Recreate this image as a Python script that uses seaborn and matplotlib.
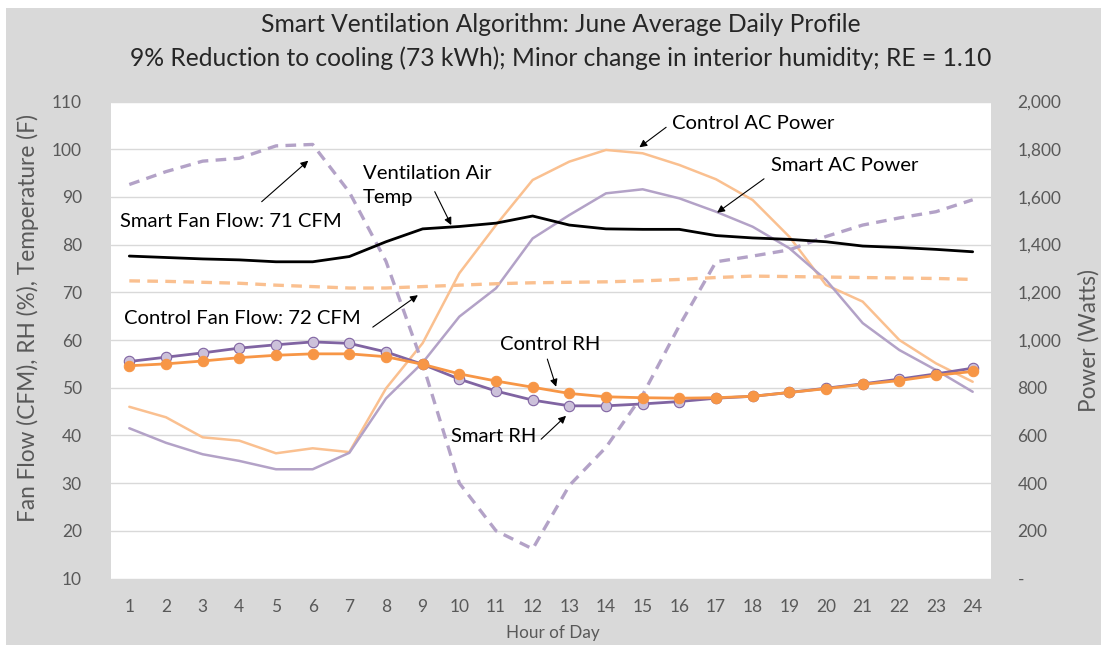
import pandas as pd
import matplotlib
matplotlib.use('Agg')
import matplotlib.pyplot as plt
import seaborn as sns
from matplotlib.patches import Rectangle
from matplotlib.ticker import FuncFormatter


hours = list(range(1, 25))

# left axis series (CFM, %, F)
smart_fan = [92.6, 95.3, 97.5, 98.1, 100.7, 101.0, 91.0, 76.5, 55.0, 30.0, 20.0, 16.2,
             29.5, 37.5, 48.5, 63.0, 76.4, 77.6, 78.9, 81.7, 84.1, 85.6, 86.9, 89.4]
control_fan = [72.4, 72.3, 72.1, 71.9, 71.5, 71.2, 70.9, 70.9, 71.2, 71.5, 71.8, 72.0,
               72.1, 72.2, 72.4, 72.7, 73.1, 73.4, 73.3, 73.2, 73.1, 73.0, 72.9, 72.7]
vent_temp = [77.6, 77.3, 77.0, 76.8, 76.4, 76.4, 77.5, 80.6, 83.3, 83.8, 84.5, 86.0,
             84.1, 83.3, 83.2, 83.2, 81.9, 81.4, 81.1, 80.6, 79.7, 79.4, 79.0, 78.5]
control_rh = [54.6, 55.0, 55.6, 56.3, 56.8, 57.1, 57.1, 56.5, 54.9, 52.9, 51.4, 50.1,
              48.8, 48.1, 47.9, 47.8, 47.9, 48.2, 49.0, 49.8, 50.7, 51.5, 52.6, 53.4]
smart_rh = [55.5, 56.4, 57.3, 58.3, 59.0, 59.6, 59.3, 57.5, 54.9, 51.8, 49.3, 47.4,
            46.2, 46.2, 46.6, 47.1, 47.8, 48.2, 49.0, 49.9, 50.8, 51.8, 52.9, 54.1]

# right axis series (Watts)
control_ac = [720, 676, 592, 578, 525, 546, 530, 797, 987, 1280, 1482, 1671,
              1748, 1797, 1783, 1734, 1674, 1587, 1433, 1231, 1161, 1000, 902, 825]
smart_ac = [630, 569, 521, 493, 458, 458, 527, 755, 905, 1098, 1217, 1426,
            1524, 1615, 1632, 1594, 1538, 1475, 1385, 1252, 1071, 958, 874, 783]

df = pd.DataFrame({'hour': hours, 'smart_fan': smart_fan, 'control_fan': control_fan,
                   'vent_temp': vent_temp, 'control_rh': control_rh, 'smart_rh': smart_rh,
                   'control_ac': control_ac, 'smart_ac': smart_ac})

sns.set_style('white')
plt.rcParams['font.family'] = ['Lato', 'DejaVu Sans']

grey_txt = '#595959'
orange = '#F79646'
purple = '#8064A2'
lt_orange = '#FAC090'
lt_purple = '#B3A2C7'

fig = plt.figure(figsize=(11.01, 6.45), dpi=100, facecolor='white')
fig.patches.append(Rectangle((6 / 1101, 0), 1, 1 - 8 / 645, transform=fig.transFigure,
                             facecolor='#D9D9D9', edgecolor='none', zorder=-10))

ax2 = fig.add_axes([0.1008, 0.1031, 0.7993, 0.7395])
ax = ax2.twinx()
ax.set_zorder(ax2.get_zorder() + 1)
ax.patch.set_visible(False)
ax2.set_facecolor('white')

# power on the back axes
sns.lineplot(data=df, x='hour', y='control_ac', ax=ax2, color=lt_orange, lw=1.8)
sns.lineplot(data=df, x='hour', y='smart_ac', ax=ax2, color=lt_purple, lw=1.8)

# flows, temp and RH on the front axes
sns.lineplot(data=df, x='hour', y='smart_fan', ax=ax, color=lt_purple, lw=2.4,
             linestyle=(0, (3.2, 2.2)))
sns.lineplot(data=df, x='hour', y='control_fan', ax=ax, color=lt_orange, lw=2.4,
             linestyle=(0, (3.2, 2.2)))
sns.lineplot(data=df, x='hour', y='vent_temp', ax=ax, color='black', lw=2)
sns.lineplot(data=df, x='hour', y='control_rh', ax=ax, color=orange, lw=2,
             marker='o', markersize=7.5, markerfacecolor=orange, markeredgecolor=orange)
sns.lineplot(data=df, x='hour', y='smart_rh', ax=ax, color=purple, lw=2,
             marker='o', markersize=7.5, markerfacecolor='#CCC1DA', markeredgecolor=purple,
             markeredgewidth=0.8)
# control RH drawn over smart RH markers like the original
ax.lines[-2].set_zorder(3)

ax.set_xlim(0.5, 24.5)
ax2.set_xlim(0.5, 24.5)
ax.set_ylim(10, 110)
ax2.set_ylim(0, 2000)

# the twin swaps sides: power axis on the right, main on the left
ax.yaxis.tick_left()
ax.yaxis.set_label_position('left')
ax2.yaxis.tick_right()
ax2.yaxis.set_label_position('right')

ax.set_yticks(range(10, 111, 10))
ax2.set_yticks(range(0, 2001, 200))
ax2.yaxis.set_major_formatter(FuncFormatter(lambda v, p: '-' if v == 0 else f'{int(v):,}'))
ax2.set_xticks(hours)
ax.set_xticks(hours)

ax2.grid(axis='y', color='#D9D9D9', lw=1)
ax2.grid(axis='x', visible=False)
for a in (ax, ax2):
    for s in a.spines.values():
        s.set_visible(False)
    a.set_xlabel('')
    a.set_ylabel('')

ax.tick_params(axis='y', length=0, pad=21, labelsize=12.5, labelcolor=grey_txt)
ax.tick_params(axis='x', length=0, labelbottom=False)
ax2.tick_params(axis='y', length=0, pad=19, labelsize=12.5, labelcolor=grey_txt)
ax2.tick_params(axis='x', length=0, pad=15, labelsize=12.5, labelcolor=grey_txt)

fig.text(561 / 1101, 1 - 24 / 645, 'Smart Ventilation Algorithm: June Average Daily Profile',
         ha='center', va='center', fontsize=17.7, color='#262626')
fig.text(561 / 1101, 1 - 58 / 645,
         '9% Reduction to cooling (73 kWh); Minor change in interior humidity; RE = 1.10',
         ha='center', va='center', fontsize=17.7, color='#262626')
fig.text(28 / 1101, 1 - 318 / 645, 'Fan Flow (CFM), RH (%), Temperature (F)',
         rotation=90, ha='center', va='center', fontsize=16.3, color=grey_txt)
fig.text(1089 / 1101, 1 - 340 / 645, 'Power (Watts)',
         rotation=90, ha='center', va='center', fontsize=16.3, color=grey_txt)
fig.text(553 / 1101, 1 - 633 / 645, 'Hour of Day',
         ha='center', va='center', fontsize=12.3, color=grey_txt)

arrow = dict(arrowstyle='-|>', color='black', lw=0.8, mutation_scale=11, shrinkA=0, shrinkB=0)
notes = [
    ('Smart Fan Flow: 71 CFM', (0.755, 84.8), (4.61, 89.0), (5.88, 97.6)),
    ('Ventilation Air\nTemp', (7.37, 92.3), (9.33, 91.1), (9.78, 84.1)),
    ('Control Fan Flow: 72 CFM', (0.86, 64.6), (7.64, 62.7), (8.87, 69.4)),
    ('Control AC Power', (15.81, 105.3), (15.64, 104.6), (14.91, 100.4)),
    ('Smart AC Power', (18.5, 96.5), (18.31, 93.8), (17.03, 86.7)),
    ('Control RH', (11.1, 59.0), (12.4, 56.0), (12.64, 50.2)),
    ('Smart RH', (9.76, 39.7), (12.23, 39.2), (12.91, 44.1)),
]
for label, txt_xy, tail, head in notes:
    ax.text(txt_xy[0], txt_xy[1], label, ha='left', va='center', fontsize=14.6,
            color='black', linespacing=1.5, zorder=6)
    ax.annotate('', xy=head, xytext=tail, arrowprops=arrow, zorder=6)

fig.savefig('out.png', dpi=100, facecolor=fig.get_facecolor())
